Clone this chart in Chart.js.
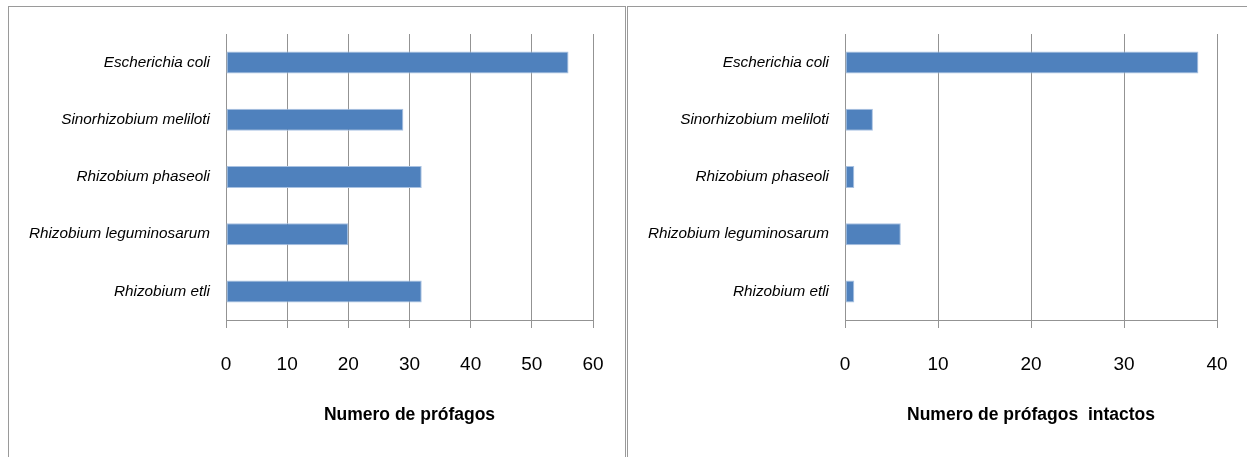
<!DOCTYPE html>
<html>
<head>
<meta charset="utf-8">
<script src="https://cdn.jsdelivr.net/npm/chart.js@4/dist/chart.umd.min.js"></script>
<style>
  html, body { margin: 0; padding: 0; background: #ffffff; }
  body { width: 1247px; height: 457px; position: relative; overflow: hidden; }
  .panel { position: absolute; border: 1px solid #9a9a9a; background: #fff; }
  #p1 { left: 8px; top: 6px; width: 616px; height: 460px; }
  #p2 { left: 627px; top: 6px; width: 630px; height: 460px; }
  .panel canvas { position: absolute; left: 0; top: 0; }
</style>
</head>
<body>
<div class="panel" id="p1"><canvas id="c1" width="616" height="450"></canvas></div>
<div class="panel" id="p2"><canvas id="c2" width="618" height="450"></canvas></div>
<script>
// ---- data ----
const species = [
  "Escherichia coli",
  "Sinorhizobium meliloti",
  "Rhizobium phaseoli",
  "Rhizobium leguminosarum",
  "Rhizobium etli"
];
const prophages = [56, 29, 32, 20, 32];
const intactProphages = [38, 3, 1, 6, 1];
const ticksLeft = [0, 10, 20, 30, 40, 50, 60];
const ticksRight = [0, 10, 20, 30, 40];
const titleLeft = "Numero de prófagos";
const titleRight = "Numero de prófagos  intactos";

const FONT = "'Liberation Sans', Arial, sans-serif";
const BAR = '#4F81BD';
const GRID = '#939393';

function makeChart(id, values, ticks, title, cfg) {
  const ctx = document.getElementById(id);
  return new Chart(ctx, {
    type: 'bar',
    data: {
      labels: species,
      datasets: [{
        data: values,
        backgroundColor: BAR,
        borderColor: '#a9c2e2',
        borderWidth: 1,
        borderSkipped: false,
        barPercentage: 0.385,
        categoryPercentage: 1.0
      }]
    },
    options: {
      indexAxis: 'y',
      responsive: false,
      animation: false,
      layout: { padding: { top: cfg.top, left: 0, right: cfg.padRight, bottom: 0 } },
      plugins: {
        legend: { display: false },
        tooltip: { enabled: false },
        title: { display: false }
      },
      scales: {
        x: {
          min: ticks[0],
          max: ticks[ticks.length - 1],
          afterBuildTicks: (s) => { s.ticks = ticks.map(v => ({ value: v })); },
          afterFit: (s) => { s.height = cfg.xHeight; s.paddingLeft = 0; s.paddingRight = 0; },
          grid: { color: GRID, lineWidth: 1, drawTicks: true, tickLength: 8, tickColor: GRID },
          border: { display: true, color: GRID, width: 1 },
          ticks: { color: '#000', padding: 25, font: { family: FONT, size: 19 } },
          title: {
            display: true,
            text: title,
            color: '#000',
            font: { family: FONT, size: 17.5, weight: 'bold', lineHeight: 1.2 },
            padding: { top: 0, bottom: 31 }
          }
        },
        y: {
          afterFit: (s) => { s.width = cfg.yWidth; },
          grid: { display: false, drawTicks: false },
          border: { display: false },
          ticks: { color: '#000', padding: 16, font: { family: FONT, size: 15.3, style: 'italic' } }
        }
      }
    }
  });
}

// left: chart area canvas x 217..584, y 27..313
makeChart('c1', prophages, ticksLeft, titleLeft, {
  top: 27, padRight: 32, yWidth: 217, xHeight: 137
});
// right: chart area canvas x 217..589, y 27..313
makeChart('c2', intactProphages, ticksRight, titleRight, {
  top: 27, padRight: 29, yWidth: 217, xHeight: 137
});
</script>
</body>
</html>
